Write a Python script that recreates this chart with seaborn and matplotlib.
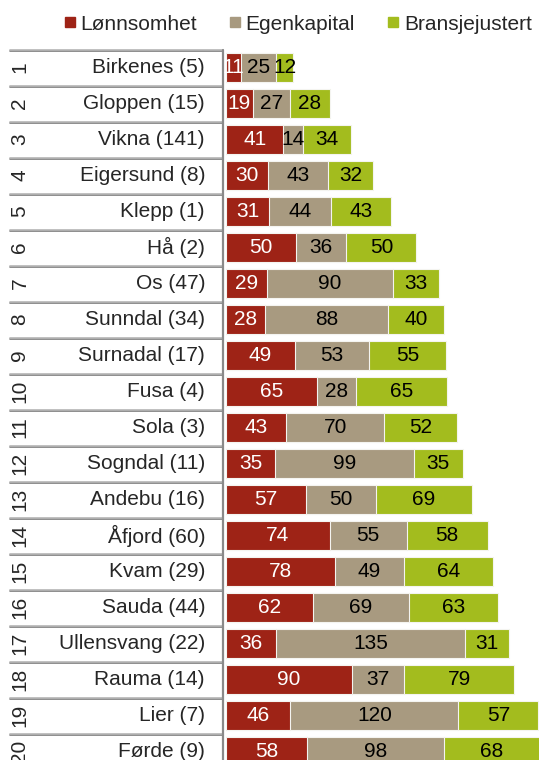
import numpy as np
import pandas as pd
import matplotlib
matplotlib.use("Agg")
import matplotlib.pyplot as plt
import matplotlib.transforms as mtransforms
from matplotlib.lines import Line2D
import seaborn as sns

# Data
ranks = list(range(1, 21))
names = ["Birkenes (5)", "Gloppen (15)", "Vikna (141)", "Eigersund (8)", "Klepp (1)",
         "Hå (2)", "Os (47)", "Sunndal (34)", "Surnadal (17)", "Fusa (4)",
         "Sola (3)", "Sogndal (11)", "Andebu (16)", "Åfjord (60)", "Kvam (29)",
         "Sauda (44)", "Ullensvang (22)", "Rauma (14)", "Lier (7)", "Førde (9)"]
lonnsomhet = [11, 19, 41, 30, 31, 50, 29, 28, 49, 65, 43, 35, 57, 74, 78, 62, 36, 90, 46, 58]
egenkapital = [25, 27, 14, 43, 44, 36, 90, 88, 53, 28, 70, 99, 50, 55, 49, 69, 135, 37, 120, 98]
bransje = [12, 28, 34, 32, 43, 50, 33, 40, 55, 65, 52, 35, 69, 58, 64, 63, 31, 79, 57, 68]
series = ["Lønnsomhet", "Egenkapital", "Bransjejustert"]
colors = ["#9e2316", "#a89a80", "#a3bc1e"]

sns.set_theme(style="white")
plt.rcParams["font.family"] = ["Liberation Sans", "DejaVu Sans"]

W, H = 539, 760
fig = plt.figure(figsize=(W / 100, H / 100), dpi=100)
x0 = 226
top = 49.5
ax = fig.add_axes([x0 / W, 0, (W - x0) / W, (H - top) / H])

df = pd.DataFrame({"name": names, "l": lonnsomhet, "e": egenkapital, "b": bransje})
df["c1"] = df["l"]
df["c2"] = df["l"] + df["e"]
df["c3"] = df["c2"] + df["b"]

# stacked bars drawn as overlapping cumulative totals
for col, c in zip(["c3", "c2", "c1"], colors[::-1]):
    sns.barplot(data=df, x=col, y="name", order=names, orient="h", color=c,
                width=0.79, edgecolor="#f4f4f0", linewidth=0.8, saturation=1,
                ax=ax)

ax.set_xlim(0, (W - x0) / 1.40)
ax.set_ylim(19.236, -0.5)
ax.axis("off")

# segment value labels
for i in range(len(names)):
    starts = [0, df["c1"][i], df["c2"][i]]
    vals = [lonnsomhet[i], egenkapital[i], bransje[i]]
    for k, (s, v) in enumerate(zip(starts, vals)):
        ax.text(s + v / 2, i, str(v), ha="center", va="center", fontsize=15,
                color="white" if k == 0 else "black")

# label column: rank, name, separators
tr = mtransforms.blended_transform_factory(fig.transFigure, ax.transData)
for i in range(len(names)):
    ax.text(20 / W, i, str(ranks[i]), rotation=90, ha="center", va="center",
            fontsize=15, transform=tr, clip_on=False)
    ax.text(205 / W, i, names[i], ha="right", va="center", fontsize=15,
            transform=tr, clip_on=False)
for k in range(len(names)):
    y = k - 0.5
    ax.add_line(Line2D([10 / W, 223 / W], [y + 0.03, y + 0.03], transform=tr,
                       color="#7a7a7a", lw=1.2, clip_on=False))
    ax.add_line(Line2D([10 / W, 223 / W], [y, y], transform=tr,
                       color="#b5b5b5", lw=1.2, clip_on=False))
ax.add_line(Line2D([223 / W, 223 / W], [-0.5, 19.3], transform=tr,
                   color="#8a8a8a", lw=1.6, clip_on=False))

handles = [Line2D([], [], marker="s", linestyle="none", markersize=7.2,
                  markerfacecolor=c, markeredgecolor=c) for c in colors]
fig.legend(handles, series, loc="center", bbox_to_anchor=(297.5 / W, 1 - 24 / H),
           ncol=3, frameon=False, fontsize=15, handlelength=0.6,
           handletextpad=0.2, columnspacing=1.55, borderpad=0)

fig.savefig("out.png", dpi=100)
